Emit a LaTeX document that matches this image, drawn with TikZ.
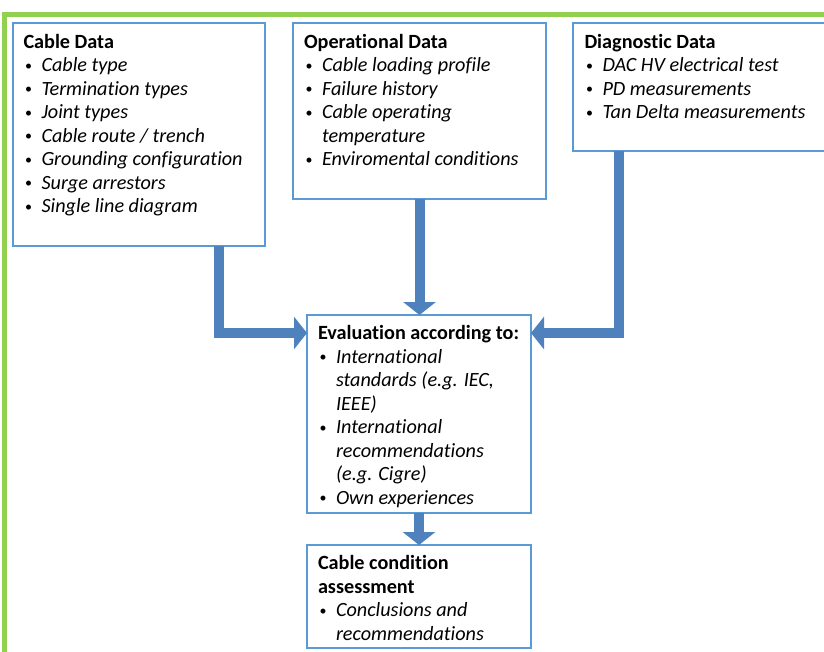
\documentclass[tikz,border=0pt]{standalone}
\usepackage{fontspec}
\setmainfont{Carlito}[Ligatures=NoCommon]
\usetikzlibrary{arrows.meta,calc}
\definecolor{boxblue}{HTML}{5B9BD5}
\definecolor{arrowblue}{HTML}{4F81BD}
\definecolor{framegreen}{HTML}{92D050}
\newcommand{\bul}[1]{\makebox[18pt][l]{\hspace{1.5pt}\raisebox{1.5pt}{\fontsize{14}{14}\selectfont\textbullet}}\textit{#1}}
\newcommand{\cont}[1]{\hspace*{18pt}\textit{#1}}
\newcommand{\hd}[1]{\textbf{#1}}
\tikzset{
  box/.style={draw=boxblue, line width=1.2pt, fill=white, anchor=north west, inner sep=0pt, outer sep=0pt},
  txt/.style={anchor=base west, inner sep=0pt, outer sep=0pt, font=\fontsize{20.2}{23.5}\selectfont},
  bigarrow/.style={draw=arrowblue, line width=10pt, -{Triangle[width=32pt,length=13pt]}},
  frameline/.style={draw=framegreen, line width=5pt}
}
\begin{document}
\begin{tikzpicture}[x=1pt,y=-1pt]
\path[use as bounding box, clip] (0,0) rectangle (824,651);
\fill[white] (0,0) rectangle (824,651);
% green frame
\coordinate (gb) at (4.2,660);
\coordinate (gc) at (4.2,14.2);
\coordinate (gr) at (840,14.2);
\draw[frameline] (gb) -- (gc) -- (gr);
% boxes
\node[box, minimum width=252pt, minimum height=223pt] (cable) at (13,23) {};
\node[box, minimum width=253pt, minimum height=176pt] (oper) at (293,23) {};
\node[box, minimum width=260pt, minimum height=128pt] (diag) at (573,23) {};
\node[box, minimum width=224pt, minimum height=198pt] (eval) at (307,315) {};
\node[box, minimum width=224pt, minimum height=103pt] (cond) at (307,545) {};
% texts
\node[txt] (cabletxt) at ($(cable.north west)+(10.5,25)$) {\parbox[t]{240pt}{%
\hd{Cable Data}\\
\bul{Cable type}\\
\bul{Termination types}\\
\bul{Joint types}\\
\bul{Cable route / trench}\\
\bul{Grounding configuration}\\
\bul{Surge arrestors}\\
\bul{Single line diagram}}};
\node[txt] (opertxt) at ($(oper.north west)+(11,25)$) {\parbox[t]{240pt}{%
\hd{Operational Data}\\
\bul{Cable loading profile}\\
\bul{Failure history}\\
\bul{Cable operating}\\
\cont{temperature}\\
\bul{Enviromental conditions}}};
\node[txt] (diagtxt) at ($(diag.north west)+(11.5,25)$) {\parbox[t]{240pt}{%
\hd{Diagnostic Data}\\
\bul{DAC HV electrical test}\\
\bul{PD measurements}\\
\bul{Tan Delta measurements}}};
\node[txt] (evaltxt) at ($(eval.north west)+(11,24.5)$) {\parbox[t]{215pt}{%
\hd{Evaluation according to:}\\
\bul{International}\\
\cont{standards (e.g. IEC,}\\
\cont{IEEE)}\\
\bul{International}\\
\cont{recommendations}\\
\cont{(e.g. Cigre)}\\
\bul{Own experiences}}};
\node[txt] (condtxt) at ($(cond.north west)+(11,24.5)$) {\parbox[t]{215pt}{%
\hd{Cable condition}\\
\hd{assessment}\\
\bul{Conclusions and}\\
\cont{recommendations}}};
% connectors
\coordinate (c1) at ($(cable.south east)+(-46,0)$);
\coordinate (e1) at ($(eval.north west)+(0,18)$);
\coordinate (d1) at ($(diag.south west)+(46,0)$);
\coordinate (e2) at ($(eval.north east)+(0,18)$);
\draw[bigarrow] (c1) |- (e1);
\draw[bigarrow] (d1) |- (e2);
\draw[bigarrow] (oper.south) -- (oper.south |- eval.north);
\draw[bigarrow] (eval.south) -- (cond.north);
\end{tikzpicture}
\end{document}
